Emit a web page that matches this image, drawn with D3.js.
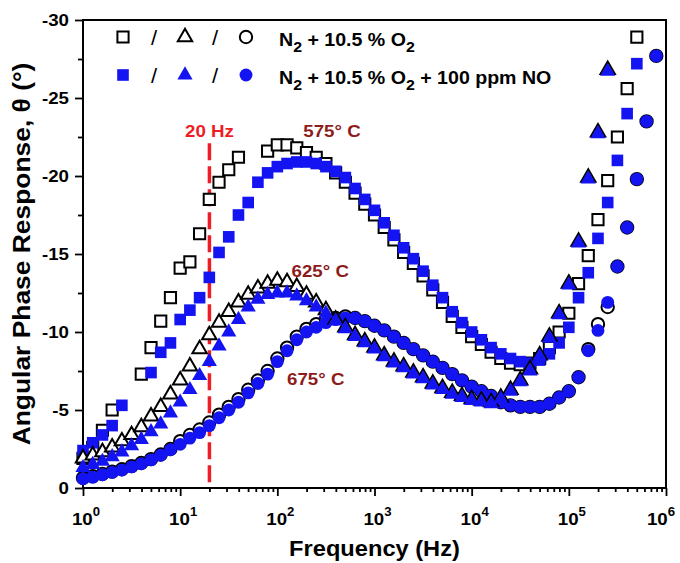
<!DOCTYPE html>
<html lang="en">
<head>
<meta charset="UTF-8" />
<title>Angular Phase Response vs Frequency</title>
<style>
  body { margin: 0; background: #fff; }
  svg text { font-family: "Liberation Sans", Arial, sans-serif; font-weight: bold; fill: #000; }
</style>
</head>
<body>
<div id="chart"></div>
<script src="https://d3js.org/d3.v7.min.js"></script>
<script>
// frequency grid (Hz), 10 points per decade
const freqs = [1, 1.259, 1.585, 1.995, 2.512, 3.162, 3.981, 5.012, 6.31, 7.943,
  10, 12.59, 15.85, 19.95, 25.12, 31.62, 39.81, 50.12, 63.1, 79.43,
  100, 125.9, 158.5, 199.5, 251.2, 316.2, 398.1, 501.2, 631, 794.3,
  1000, 1259, 1585, 1995, 2512, 3162, 3981, 5012, 6310, 7943,
  10000, 12589, 15849, 19953, 25119, 31623, 39811, 50119, 63096, 79433,
  100000, 125893, 158489, 199526, 251189, 316228, 398107, 501187, 630957, 794328];

// 575 C, N2 + 10.5 % O2 (open squares)
const sq575O2 = [-1.9, -2.6, -3.7, -5.0, null, null, -7.3, -9.0, -10.7, -12.2,
  -14.1, -14.5, -16.3, -18.5, -19.6, -20.4, -21.2, null, null, -21.6,
  -22.0, -22.0, -21.8, -21.5, -21.2, -20.8, -20.2, -19.6, -18.9, -18.2,
  -17.5, -16.7, -15.9, -15.1, -14.4, -13.6, -12.7, -11.9, -11.0, -10.3,
  -9.7, -9.2, -8.7, -8.3, -8.0, -7.9, -8.0, -8.3, -9.0, -10.0,
  -11.2, -13.1, -14.9, -17.2, -19.7, -22.5, -25.6, -28.9, null, null];
// 575 C, + 100 ppm NO (filled squares)
const sq575NO = [-2.4, -2.9, -3.4, -4.0, -5.3, null, null, -7.4, -8.7, -9.3,
  -10.8, -11.4, -12.2, -13.5, -15.1, -16.1, -17.5, -18.3, -19.6, -20.2,
  -20.6, -20.8, -20.9, -20.9, -20.8, -20.6, -20.3, -19.9, -19.2, -18.5,
  -17.8, -17.0, -16.2, -15.4, -14.7, -13.9, -13.0, -12.2, -11.3, -10.6,
  -10.0, -9.5, -9.0, -8.6, -8.3, -8.1, -8.0, -8.2, -8.6, -9.3,
  -10.3, -12.2, -13.8, -16.0, -18.3, -21.0, -24.0, -27.2, null, null];
// 625 C, N2 + 10.5 % O2 (open triangles)
const tri625O2 = [-1.9, -2.1, -2.3, -2.6, -3.0, -3.4, -3.9, -4.6, -5.2, -6.0,
  -6.9, -7.8, -8.9, -9.8, -10.6, -11.3, -11.9, -12.4, -12.8, -13.1,
  -13.3, -13.2, -12.9, -12.4, -11.9, -11.4, -10.8, -10.3, -9.8, -9.4,
  -9.0, -8.5, -8.1, -7.8, -7.4, -7.1, -6.7, -6.4, -6.1, -5.9,
  -5.7, -5.6, -5.5, -5.8, -6.3, -6.9, -7.6, -8.5, -9.7, -11.2,
  -13.1, -15.8, -19.9, -22.8, -26.8, null, null, null, null, null];
// 625 C, + 100 ppm NO (filled triangles)
const tri625NO = [-1.3, -1.5, -1.7, -2.0, -2.3, -2.7, -3.1, -3.6, -4.1, -4.8,
  -5.5, -6.3, -7.2, -8.1, -9.1, -10.0, -10.8, -11.6, -12.1, -12.4,
  -12.5, -12.5, -12.3, -12.0, -11.6, -11.2, -10.7, -10.2, -9.7, -9.3,
  -8.9, -8.4, -8.0, -7.7, -7.3, -7.0, -6.6, -6.3, -6.0, -5.8,
  -5.6, -5.5, -5.4, -5.7, -6.2, -6.8, -7.5, -8.4, -9.6, -11.1,
  -13.0, -15.7, -19.8, -22.7, -26.7, null, null, null, null, null];
// 675 C, N2 + 10.5 % O2 (open circles)
const circ675O2 = [-0.65, -0.75, -0.9, -1.05, -1.2, -1.4, -1.6, -1.85, -2.15, -2.5,
  -3.0, -3.4, -3.75, -4.2, -4.7, -5.2, -5.7, -6.3, -6.9, -7.5,
  -8.3, -9.0, -9.7, -10.2, -10.5, -10.8, -10.9, -11.0, -10.9, -10.7,
  -10.4, -10.1, -9.7, -9.3, -8.9, -8.5, -8.1, -7.7, -7.3, -6.9,
  -6.5, -6.2, -5.9, -5.5, -5.3, -5.2, -5.2, -5.2, -5.4, -5.8,
  -6.2, -7.1, -8.9, -10.5, -11.6, -14.2, -16.7, -19.8, -23.5, -27.7];
// 675 C, + 100 ppm NO (filled circles)
const circ675NO = [-0.6, -0.7, -0.85, -1.0, -1.15, -1.35, -1.55, -1.8, -2.1, -2.45,
  -2.8, -3.2, -3.55, -4.0, -4.5, -5.0, -5.5, -6.1, -6.7, -7.3,
  -8.1, -8.8, -9.5, -10.0, -10.3, -10.6, -10.8, -10.9, -10.9, -10.7,
  -10.4, -10.1, -9.7, -9.3, -8.9, -8.5, -8.1, -7.7, -7.3, -6.9,
  -6.5, -6.2, -5.9, -5.5, -5.3, -5.2, -5.2, -5.2, -5.4, -5.8,
  -6.2, -7.1, -8.8, -10.1, -11.9, -14.2, -16.7, -19.8, -23.5, -27.7];

const yTicks = [0, -5, -10, -15, -20, -25, -30];
const yMinorTicks = [-2.5, -7.5, -12.5, -17.5, -22.5, -27.5];
const xDecades = [1, 10, 100, 1000, 10000, 100000, 1000000];
const xExponents = ['0', '1', '2', '3', '4', '5', '6'];

const legendRows = [
  { text: ['N', '2', ' + 10.5 % O', '2', ''], filled: false },
  { text: ['N', '2', ' + 10.5 % O', '2', ' + 100 ppm NO'], filled: true }
];
const tempLabels = [
  { text: '575\u00b0 C', f: 185, v: -22.5 },
  { text: '625\u00b0 C', f: 140, v: -13.5 },
  { text: '675\u00b0 C', f: 126, v: -6.6 }
];
const markerFreq = 20;     // dashed reference line
const markerTop = -22.1;

const width = 680, height = 563;
const margin = { top: 20, right: 14, bottom: 75, left: 83 };
const blue = '#1414f2';
const red = '#ee1c24';
const darkRed = '#8e1b1b';
const stretch = 1.1; // original glyphs are a little wide

const svg = d3.select('#chart').append('svg')
  .attr('width', width).attr('height', height);

const x = d3.scaleLog().domain([1, 1e6]).range([margin.left, width - margin.right]);
const y = d3.scaleLinear().domain([0, -30]).range([height - margin.bottom, margin.top]);

// text with a slight horizontal stretch
function label(parent, px, py, size, anchor, rotate) {
  const t = parent.append('text')
    .attr('transform', `translate(${px},${py})` + (rotate ? ` rotate(${rotate})` : '') + ` scale(${stretch},1)`)
    .attr('font-size', size)
    .attr('text-anchor', anchor);
  return t;
}

// axes
const xMajor = svg.append('g')
  .attr('transform', `translate(0,${y(0)})`)
  .call(d3.axisBottom(x).tickValues(xDecades).tickSize(8).tickFormat(''));
const xMinor = svg.append('g')
  .attr('transform', `translate(0,${y(0)})`)
  .call(d3.axisBottom(x).tickValues(x.ticks().filter(v => !xDecades.includes(v))).tickSize(4).tickFormat(''));
const yMajor = svg.append('g')
  .attr('transform', `translate(${x(1)},0)`)
  .call(d3.axisLeft(y).tickValues(yTicks).tickSize(8).tickFormat(''));
const yMinor = svg.append('g')
  .attr('transform', `translate(${x(1)},0)`)
  .call(d3.axisLeft(y).tickValues(yMinorTicks).tickSize(5).tickFormat(''));
[xMajor, xMinor, yMajor, yMinor].forEach(g => {
  g.select('.domain').remove();
  g.selectAll('line').attr('stroke', '#000').attr('stroke-width', 1.8);
});

xDecades.forEach((d, i) => {
  const t = label(svg, Math.min(x(d) + 3, width - 19), y(0) + 37, 17, 'middle');
  t.append('tspan').text('10');
  t.append('tspan').attr('font-size', 12).attr('dy', -9).text(xExponents[i]);
});
yTicks.forEach(d => {
  label(svg, x(1) - 14, y(d) + 6, 17, 'end').text(String(d));
});

// frame
svg.append('rect')
  .attr('x', x(1)).attr('y', y(-30))
  .attr('width', x(1e6) - x(1)).attr('height', y(0) - y(-30))
  .attr('fill', 'none').attr('stroke', '#000').attr('stroke-width', 2);

// axis titles
label(svg, (x(1) + x(1e6)) / 2, 556, 21.5, 'middle').text('Frequency (Hz)');
label(svg, 30, (y(0) + y(-30)) / 2, 24, 'middle', -90).text('Angular Phase Response, \u03b8 (\u00b0)');

// dashed 20 Hz line
svg.append('line')
  .attr('x1', x(markerFreq)).attr('x2', x(markerFreq))
  .attr('y1', y(markerTop)).attr('y2', y(0))
  .attr('stroke', red).attr('stroke-width', 3.5).attr('stroke-dasharray', '17,6');
label(svg, x(markerFreq), y(-22.5), 17, 'middle').style('fill', red).text('20 Hz');

// data markers
const sizes = { square: 125, triangle: 90, circle: 120 };
const shapes = { square: d3.symbolSquare, triangle: d3.symbolTriangle, circle: d3.symbolCircle };
const series = [
  { values: sq575O2, shape: 'square', filled: false },
  { values: sq575NO, shape: 'square', filled: true },
  { values: circ675O2, shape: 'circle', filled: false },
  { values: circ675NO, shape: 'circle', filled: true },
  { values: tri625O2, shape: 'triangle', filled: false },
  { values: tri625NO, shape: 'triangle', filled: true }
];

function drawSymbol(sel, shape, filled) {
  sel.attr('d', d3.symbol().type(shapes[shape]).size(sizes[shape] + (filled ? 10 : 0)))
    .attr('fill', filled ? blue : '#fff')
    .attr('stroke', filled ? 'none' : '#000')
    .attr('stroke-width', 2);
}

series.forEach(s => {
  const pts = freqs.map((f, i) => ({ f, v: s.values[i] })).filter(d => d.v !== null);
  svg.append('g').selectAll('path').data(pts).enter().append('path')
    .attr('transform', d => `translate(${x(d.f)},${y(d.v)})`)
    .call(drawSymbol, s.shape, s.filled);
});

// temperature labels
tempLabels.forEach(t => {
  label(svg, x(t.f), y(t.v), 17, 'start').style('fill', darkRed).text(t.text);
});

// legend
const legendShapes = ['square', 'triangle', 'circle'];
const legendX = [123, 185, 246];
const slashX = [154, 215];
legendRows.forEach((row, r) => {
  const cy = 37 + r * 38;
  legendShapes.forEach((shape, i) => {
    svg.append('path')
      .attr('transform', `translate(${legendX[i]},${cy})`)
      .call(drawSymbol, shape, row.filled);
  });
  slashX.forEach(sx => label(svg, sx, cy + 8, 20, 'middle').style('font-weight', 'normal').text('/'));
  const t = label(svg, 279, cy + 9, 17.8, 'start');
  t.append('tspan').text(row.text[0]);
  t.append('tspan').attr('font-size', 14.5).attr('dy', 6).text(row.text[1]);
  t.append('tspan').attr('dy', -6).text(row.text[2]);
  t.append('tspan').attr('font-size', 14.5).attr('dy', 6).text(row.text[3]);
  if (row.text[4]) t.append('tspan').attr('dy', -6).text(row.text[4]);
});
</script>
</body>
</html>
